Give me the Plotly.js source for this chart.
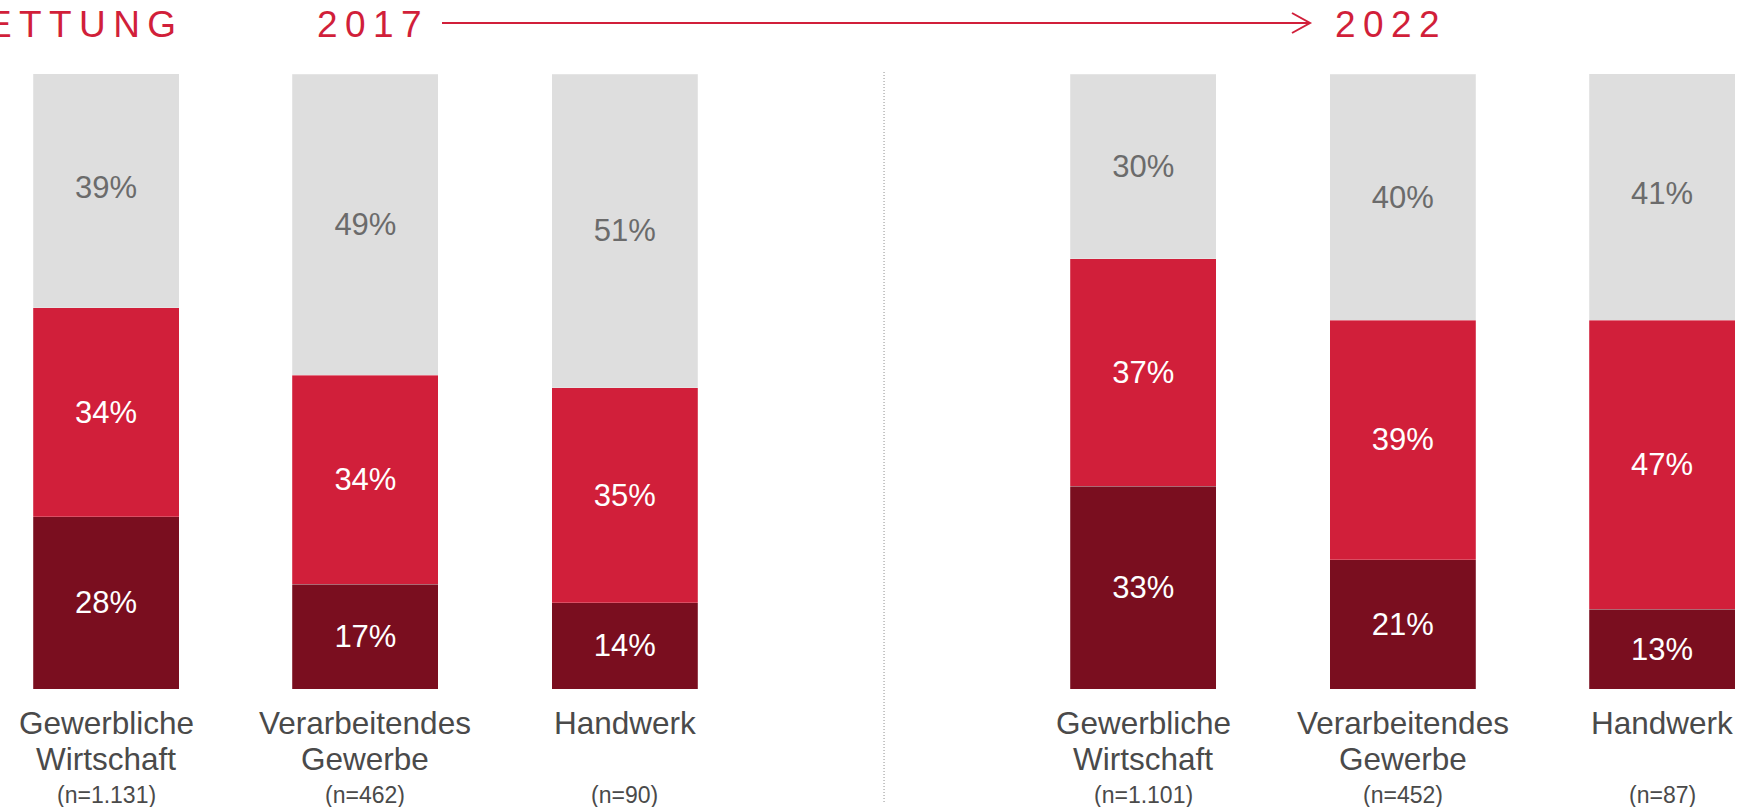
<!DOCTYPE html>
<html>
<head>
<meta charset="utf-8">
<script src="https://cdn.plot.ly/plotly-3.0.1.min.js"></script>
<style>
  html, body { margin: 0; padding: 0; background: #ffffff; }
  #chart { width: 1758px; height: 807px; }
</style>
</head>
<body>
<div id="chart"></div>
<script>
// ---- Data ----
const years = ['2017', '2022'];
const categories = ['Gewerbliche Wirtschaft', 'Verarbeitendes Gewerbe', 'Handwerk'];
const categoryLines = [['Gewerbliche', 'Wirtschaft'], ['Verarbeitendes', 'Gewerbe'], ['Handwerk']];
const sampleSizes2017 = ['(n=1.131)', '(n=462)', '(n=90)'];
const sampleSizes2022 = ['(n=1.101)', '(n=452)', '(n=87)'];
const dark2017 = [28, 17, 14];
const red2017 = [34, 34, 35];
const grey2017 = [39, 49, 51];
const dark2022 = [33, 21, 13];
const red2022 = [37, 39, 47];
const grey2022 = [30, 40, 41];
const headingFragment = 'ETTUNG';

// ---- Layout helpers ----
const W = 1758, H = 807;
const MT = 74, MB = 118;
const PH = H - MT - MB;
const py = p => (H - MB - p) / PH;   // pixel row -> paper y
const px = p => p / W;               // pixel col -> paper x
const spaced = s => s.split('').join('\u2009');

const RED = '#D11F3A';
const DARK = '#7A0E1F';
const GREY = '#DEDEDE';
const FONT = '"Liberation Sans", Arial, sans-serif';

// category axis: three 2017 bars, an empty slot, three 2022 bars
const slots2017 = categories.map(c => years[0] + ' ' + c);
const slots2022 = categories.map(c => years[1] + ' ' + c);
const spacer = ' ';
const slotOrder = slots2017.concat([spacer], slots2022);

const xs = slots2017.concat(slots2022);
function series(name, a, b, color, textColor) {
  const vals = a.concat(b);
  return {
    type: 'bar', name: name, x: xs, y: vals,
    marker: { color: color, line: { width: 0.6, color: 'rgba(255,255,255,0.35)' } },
    text: vals.map(v => v + '%'),
    textposition: 'inside', insidetextanchor: 'middle', textangle: 0,
    constraintext: 'none',
    insidetextfont: { family: FONT, size: 31, color: textColor },
    hoverinfo: 'skip'
  };
}

const data = [
  series('dunkel', dark2017, dark2022, DARK, '#ffffff'),
  series('rot', red2017, red2022, RED, '#ffffff'),
  series('grau', grey2017, grey2022, GREY, '#6b6b6b')
];

const annotations = [];
function catLabels(slots, sizes) {
  slots.forEach((s, i) => {
    const lines = categoryLines[i];
    const ys = [py(722.5), py(759)];
    lines.forEach((t, k) => {
      annotations.push({ xref: 'x', yref: 'paper', x: s, y: ys[k], text: t, showarrow: false,
        xanchor: 'center', yanchor: 'middle', font: { family: FONT, size: 31.5, color: '#4a4a4a' } });
    });
    annotations.push({ xref: 'x', yref: 'paper', x: s, y: py(794.5), text: sizes[i], showarrow: false,
      xanchor: 'center', yanchor: 'middle', font: { family: FONT, size: 23, color: '#4a4a4a' } });
  });
}
catLabels(slots2017, sampleSizes2017);
catLabels(slots2022, sampleSizes2022);

// headings
annotations.push({ xref: 'paper', yref: 'paper', x: px(178), y: py(24), text: spaced(headingFragment),
  showarrow: false, xanchor: 'right', yanchor: 'middle', font: { family: FONT, size: 37, color: RED } });
annotations.push({ xref: 'paper', yref: 'paper', x: px(315), y: py(24), text: spaced(years[0]),
  showarrow: false, xanchor: 'left', yanchor: 'middle', font: { family: FONT, size: 37, color: RED } });
annotations.push({ xref: 'paper', yref: 'paper', x: px(1333), y: py(24), text: spaced(years[1]),
  showarrow: false, xanchor: 'left', yanchor: 'middle', font: { family: FONT, size: 37, color: RED } });

const shapes = [
  // arrow shaft
  { type: 'line', xref: 'paper', yref: 'paper', x0: px(442), x1: px(1309), y0: py(23), y1: py(23),
    line: { color: RED, width: 2 } },
  // arrow head (open chevron)
  { type: 'path', xref: 'paper', yref: 'paper',
    path: 'M ' + px(1292) + ',' + py(13) + ' L ' + px(1310) + ',' + py(23) + ' L ' + px(1292) + ',' + py(33),
    line: { color: RED, width: 2 } },
  // dotted separator in the empty slot
  { type: 'line', xref: 'x', yref: 'paper', x0: spacer, x1: spacer, y0: py(72), y1: py(803),
    line: { color: '#b5b5b5', width: 1.5, dash: '1px,2px' } }
];

const layout = {
  width: W, height: H,
  margin: { l: 0, r: 0, t: MT, b: MB, pad: 0 },
  paper_bgcolor: '#ffffff', plot_bgcolor: '#ffffff',
  barmode: 'stack', bargap: 0.437,
  showlegend: false,
  xaxis: { type: 'category', categoryorder: 'array', categoryarray: slotOrder,
    range: [-0.409, 6.370], showticklabels: false, showgrid: false, zeroline: false,
    showline: false, ticks: '', fixedrange: true },
  yaxis: { range: [0, 100], showticklabels: false, showgrid: false, zeroline: false,
    showline: false, ticks: '', fixedrange: true },
  annotations: annotations,
  shapes: shapes,
  font: { family: FONT }
};

Plotly.newPlot('chart', data, layout, { displayModeBar: false, staticPlot: true });
</script>
</body>
</html>
